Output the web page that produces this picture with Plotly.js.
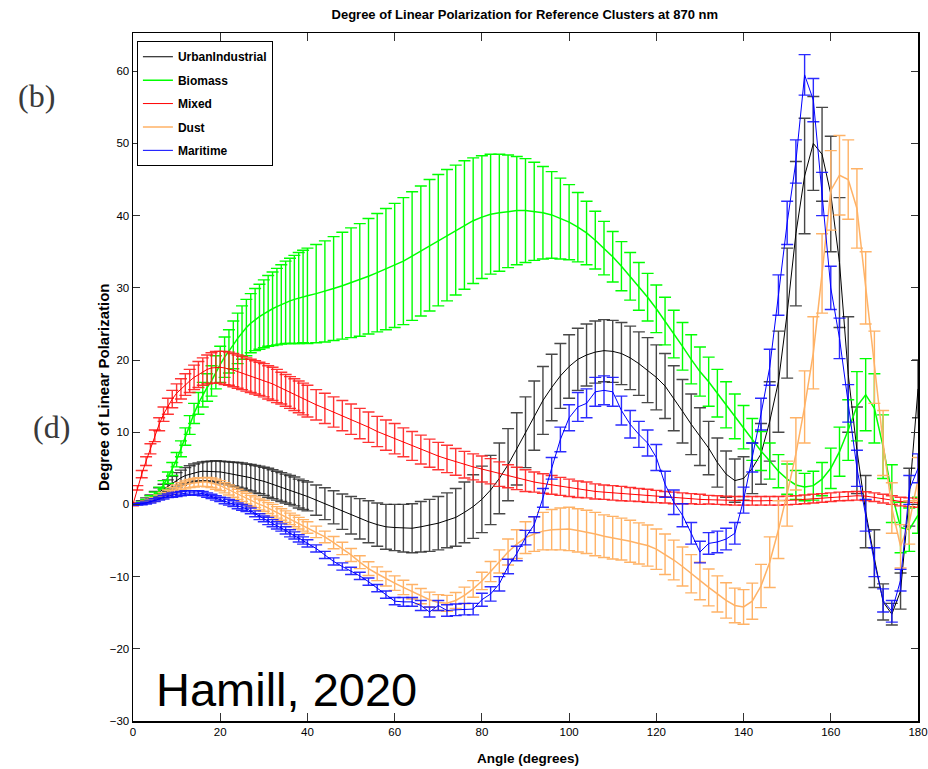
<!DOCTYPE html>
<html>
<head>
<meta charset="utf-8">
<script src="https://cdn.plot.ly/plotly-3.0.1.min.js"></script>
<style>html,body{margin:0;padding:0;background:#fff}#chart{width:928px;height:769px}</style>
</head>
<body>
<div id="chart"></div>
<script>
// Scattering angle (degrees)
const angles = [0,1,2,3,4,5,6,7,8,9,10,11,12,13,14,15,16,17,18,19,20,21,22,23,24,25,26,27,28,29,30,31,32,33,34,35,36,37,38,39,40,
42,44,46,48,50,52,54,56,58,60,62,64,66,68,70,72,74,76,78,80,82,84,86,88,90,92,94,96,98,100,102,104,106,108,110,112,114,116,118,120,122,124,126,128,130,132,134,136,138,140,142,144,146,148,150,152,154,156,158,160,162,164,166,168,170,172,174,176,178,180];

const seriesNames = ["UrbanIndustrial","Biomass","Mixed","Dust","Maritime"];

const urbanMean = [0,0.1,0.3,0.6,0.9,1.3,1.7,2.1,2.6,3.0,3.4,3.7,4.0,4.2,4.4,4.5,4.6,4.6,4.6,4.6,4.5,4.4,4.3,4.2,4.1,4.0,3.8,3.7,3.5,3.4,3.2,3.0,2.8,2.6,2.4,2.2,2.0,1.8,1.5,1.3,1.1,
0.6,0.1,-0.4,-1.0,-1.5,-2.0,-2.4,-2.8,-3.1,-3.2,-3.3,-3.3,-3.1,-2.9,-2.6,-2.2,-1.8,-1.1,-0.3,0.7,2.0,3.6,5.5,7.7,10.0,12.3,14.4,16.2,17.8,19.1,20.1,20.7,21.1,21.3,21.2,20.9,20.3,19.5,18.6,17.6,16.4,14.7,12.9,11.1,9.4,7.8,5.8,4.2,3.3,3.6,5.0,7.0,11.5,17.0,26.5,37.5,45.5,50.0,48.5,43.0,33.5,18.0,7.5,-1.0,-7.5,-13.5,-15.2,-12.0,1.0,16.0];
const urbanErr = [0,0.1,0.2,0.3,0.4,0.5,0.6,0.7,0.8,0.9,1.0,1.05,1.1,1.15,1.2,1.25,1.3,1.35,1.4,1.45,1.5,1.55,1.6,1.65,1.7,1.75,1.8,1.85,1.9,1.9,1.95,2.0,2.0,2.0,2.0,2.0,2.0,2.0,2.0,2.0,2.0,
2.1,2.2,2.3,2.45,2.6,2.8,2.9,3.0,3.1,3.2,3.3,3.4,3.5,3.6,3.7,3.8,4.0,4.2,4.4,4.6,4.8,4.9,5.0,5.0,4.9,4.8,4.7,4.6,4.5,4.4,4.3,4.3,4.3,4.3,4.3,4.3,4.4,4.4,4.5,4.5,4.5,4.5,4.4,4.2,4.0,3.7,3.4,3.2,3.0,3.0,3.5,4.2,5.5,7.0,9.0,10.0,8.0,6.5,6.5,8.0,9.0,8.0,6.0,5.0,4.0,2.5,1.5,2.5,4.0,4.0];

const biomassMean = [0,0.05,0.2,0.5,0.9,1.3,1.9,2.7,3.7,4.9,6.2,7.7,9.4,11.0,12.6,14.0,15.2,16.2,17.1,18.3,19.4,20.4,21.2,22.1,23.0,23.8,24.5,25.1,25.6,26.0,26.4,26.8,27.1,27.4,27.7,28.0,28.2,28.4,28.6,28.8,28.9,
29.2,29.5,29.9,30.3,30.7,31.1,31.6,32.1,32.6,33.1,33.7,34.4,35.1,35.9,36.6,37.3,38.0,38.7,39.3,39.8,40.2,40.4,40.6,40.7,40.7,40.6,40.4,40.1,39.6,39.1,38.4,37.6,36.6,35.5,34.3,33.0,31.6,30.2,28.7,27.1,25.4,23.6,21.9,20.1,18.4,17.0,15.4,13.8,12.2,10.7,9.0,7.4,6.0,4.6,3.5,2.7,2.4,2.6,3.5,5.0,7.3,10.3,13.6,15.2,13.3,8.0,1.5,-3.2,-3.5,-1.5];
const biomassErr = [0,0.05,0.1,0.2,0.3,0.4,0.5,0.6,0.8,0.9,1.0,1.1,1.2,1.3,1.4,1.5,1.7,1.9,2.1,2.3,2.5,2.8,3.0,3.3,3.5,3.7,3.9,4.1,4.3,4.5,4.7,4.9,5.1,5.3,5.5,5.7,5.9,6.1,6.3,6.4,6.6,
6.8,7.0,7.2,7.4,7.6,7.8,8.0,8.2,8.4,8.6,8.8,8.9,9.0,9.1,9.1,9.1,9.0,8.9,8.7,8.5,8.3,8.1,7.8,7.5,7.2,6.8,6.4,6.0,5.6,5.2,4.8,4.4,4.0,3.7,3.5,3.4,3.3,3.3,3.3,3.3,3.3,3.3,3.3,3.4,3.4,3.4,3.3,3.2,3.1,3.0,2.9,2.7,2.5,2.3,2.1,2.0,1.9,2.0,2.3,2.8,3.4,4.2,4.8,5.0,4.8,4.4,4.0,3.5,3.0,2.5];

const mixedMean = [0,2.3,4.2,6.0,7.7,9.5,11.1,12.5,13.6,14.6,15.4,16.0,16.6,17.1,17.6,18.0,18.4,18.7,18.9,19.0,19.0,18.9,18.8,18.6,18.4,18.2,18.0,17.8,17.6,17.4,17.2,16.9,16.7,16.4,16.1,15.8,15.5,15.2,14.9,14.6,14.3,
13.8,13.3,12.8,12.3,11.8,11.2,10.7,10.1,9.6,9.1,8.6,8.1,7.6,7.1,6.7,6.3,5.9,5.5,5.2,4.9,4.6,4.2,3.9,3.6,3.3,3.1,2.9,2.7,2.5,2.3,2.1,2.0,1.8,1.7,1.6,1.5,1.4,1.3,1.2,1.1,1.0,0.9,0.85,0.8,0.7,0.65,0.6,0.55,0.5,0.5,0.5,0.5,0.5,0.5,0.55,0.6,0.7,0.8,0.9,1.0,1.1,1.15,1.2,1.15,1.0,0.8,0.6,0.4,0.3,0.2];
const mixedErr = [0.2,0.3,0.5,0.6,0.7,0.8,0.9,1.0,1.1,1.2,1.3,1.4,1.5,1.6,1.7,1.8,1.9,2.0,2.1,2.2,2.2,2.3,2.3,2.3,2.3,2.3,2.3,2.3,2.3,2.3,2.3,2.3,2.3,2.3,2.2,2.2,2.2,2.2,2.2,2.2,2.2,
2.1,2.1,2.1,2.1,2.1,2.1,2.1,2.1,2.1,2.1,2.0,2.0,2.0,1.95,1.9,1.9,1.85,1.85,1.8,1.8,1.75,1.7,1.6,1.55,1.5,1.4,1.35,1.3,1.25,1.2,1.15,1.1,1.05,1.0,1.0,1.0,0.95,0.9,0.9,0.85,0.8,0.8,0.75,0.7,0.7,0.6,0.6,0.6,0.6,0.6,0.6,0.6,0.6,0.6,0.6,0.6,0.6,0.6,0.6,0.6,0.6,0.6,0.6,0.6,0.6,0.6,0.6,0.6,0.6,0.6];

const dustMean = [0,0.05,0.15,0.3,0.5,0.7,1.0,1.3,1.6,1.9,2.2,2.5,2.7,2.9,3.0,3.1,3.1,3.1,3.0,2.8,2.6,2.3,2.0,1.7,1.4,1.1,0.8,0.5,0.3,0.0,-0.2,-0.5,-0.8,-1.1,-1.4,-1.7,-2.0,-2.3,-2.6,-2.9,-3.2,
-3.8,-4.5,-5.3,-6.1,-7.0,-8.0,-8.9,-9.6,-10.3,-10.9,-11.5,-12.1,-12.7,-13.2,-13.6,-13.7,-13.3,-12.6,-11.7,-10.6,-9.3,-7.9,-6.6,-5.5,-4.6,-4.1,-3.7,-3.5,-3.4,-3.4,-3.6,-3.8,-4.1,-4.4,-4.6,-4.8,-5.1,-5.4,-5.7,-6.2,-6.9,-7.7,-8.6,-9.6,-10.6,-11.5,-12.4,-13.3,-14.0,-14.2,-13.4,-11.3,-8.0,-3.5,1.5,7.0,13.5,21.0,32.0,43.5,45.6,45.0,41.0,30.0,19.0,8.5,-0.5,-5.8,-2.5,3.5];
const dustErr = [0,0.05,0.1,0.15,0.2,0.25,0.3,0.35,0.4,0.45,0.5,0.5,0.55,0.55,0.6,0.6,0.6,0.65,0.65,0.7,0.7,0.7,0.7,0.7,0.7,0.7,0.75,0.75,0.75,0.75,0.75,0.75,0.8,0.8,0.8,0.8,0.8,0.8,0.8,0.8,0.8,
0.8,0.8,0.85,0.85,0.9,0.9,0.95,0.95,1.0,1.0,1.0,1.0,1.05,1.05,1.1,1.1,1.1,1.15,1.15,1.2,1.4,1.6,1.8,2.0,2.2,2.4,2.6,2.8,2.9,3.0,3.0,3.0,3.0,2.95,2.95,2.9,2.9,2.85,2.85,2.8,2.8,2.75,2.7,2.65,2.6,2.55,2.5,2.45,2.4,2.4,2.5,3.0,3.5,4.0,4.5,5.0,5.0,5.0,5.5,5.5,5.5,5.5,5.5,5.0,5.0,4.5,3.5,3.0,3.0,3.0];

const maritimeMean = [0,0,0.1,0.2,0.4,0.6,0.8,1.0,1.2,1.3,1.4,1.5,1.6,1.6,1.6,1.6,1.5,1.3,1.1,0.9,0.7,0.5,0.3,0.1,-0.2,-0.4,-0.6,-0.9,-1.3,-1.7,-2.0,-2.3,-2.6,-2.9,-3.2,-3.6,-4.0,-4.3,-4.7,-5.0,-5.4,
-6.1,-7.0,-7.9,-8.6,-9.2,-9.9,-10.7,-11.6,-12.5,-13.4,-13.5,-13.5,-14.0,-14.9,-14.0,-14.7,-14.6,-14.5,-14.5,-13.2,-12.4,-11.0,-8.6,-6.8,-4.6,-2.8,0.9,5.0,9.0,12.0,13.5,14.0,15.6,15.8,15.6,13.0,11.1,9.7,8.5,6.5,2.8,0.3,-1.5,-4.0,-6.6,-5.4,-5.2,-4.8,-4.0,0.6,6.5,12.5,19.0,29.0,39.0,47.5,59.5,56.0,43.0,30.0,23.0,14.0,5.0,-1.5,-8.0,-13.3,-14.8,-10.5,2.0,5.0];
const maritimeErr = [0.1,0.1,0.15,0.15,0.2,0.2,0.2,0.25,0.25,0.3,0.3,0.3,0.3,0.3,0.3,0.3,0.3,0.3,0.3,0.3,0.3,0.4,0.4,0.4,0.4,0.4,0.4,0.4,0.4,0.4,0.4,0.5,0.5,0.5,0.5,0.5,0.5,0.5,0.5,0.5,0.5,
0.5,0.5,0.5,0.5,0.5,0.5,0.5,0.5,0.5,0.5,0.6,0.6,0.7,0.7,0.7,0.8,0.8,0.8,0.8,0.9,1.0,1.0,1.0,1.0,1.0,1.1,1.3,1.5,1.7,1.8,2.0,2.0,2.0,2.0,2.0,2.0,1.9,1.8,1.8,1.8,1.8,1.7,1.6,1.5,1.5,1.5,1.5,1.5,1.5,1.8,2.0,2.2,2.5,2.8,3.0,3.0,2.8,3.0,3.0,3.0,2.8,2.6,2.5,2.2,2.0,1.6,1.5,1.5,2.0,2.0];

const xTicks = [0,20,40,60,80,100,120,140,160,180];
const yTicks = [-30,-20,-10,0,10,20,30,40,50,60];

const narrow = "Liberation Sans Narrow, Arial Narrow, Liberation Sans, Arial, sans-serif";
const wide = "Liberation Sans, Arial, sans-serif";

function mk(name, y, err, color, lw, ecolor) {
  return {
    type: "scatter", mode: "lines", name: name, x: angles, y: y,
    line: {color: color, width: lw},
    error_y: {type: "data", array: err, visible: true, color: ecolor || color, thickness: 1.4, width: 6},
    legendgroup: name
  };
}

const data = [
  mk(seriesNames[0], urbanMean, urbanErr, "#000000", 1, "rgba(40,40,40,0.85)"),
  mk(seriesNames[1], biomassMean, biomassErr, "#00ff00", 1.5),
  mk(seriesNames[2], mixedMean, mixedErr, "#ff0000", 1, "rgba(255,30,30,0.9)"),
  mk(seriesNames[3], dustMean, dustErr, "#ffb266", 1.5),
  mk(seriesNames[4], maritimeMean, maritimeErr, "#0000ff", 1, "rgba(20,20,255,0.9)")
];

const axisCommon = {
  showline: true, linecolor: "#000", linewidth: 1.5, mirror: "ticks",
  ticks: "inside", ticklen: 8, tickwidth: 1, tickcolor: "#333",
  showgrid: false, zeroline: false, ticklabeloverflow: "allow",
  tickfont: {family: narrow, size: 11.5, color: "#000"}
};

const layout = {
  width: 928, height: 769,
  margin: {l: 133, r: 10, t: 33, b: 48},
  paper_bgcolor: "#fff", plot_bgcolor: "#fff",
  showlegend: true,
  title: {text: "<b>Degree of Linear Polarization for Reference Clusters at 870 nm</b>",
          font: {family: narrow, size: 13, color: "#000"}, x: 0.5655, xanchor: "center", y: 0.981, yanchor: "middle"},
  xaxis: Object.assign({}, axisCommon, {
    range: [0, 180], tickvals: xTicks, ticktext: xTicks.map(String)
  }),
  yaxis: Object.assign({}, axisCommon, {
    range: [-30, 65.3], tickvals: yTicks, ticktext: yTicks.map(v => v < 0 ? "\u2212" + Math.abs(v) : String(v)),
    ticklen: 7
  }),
  legend: {
    x: 0.005, y: 0.988, xanchor: "left", yanchor: "top",
    bgcolor: "#fff", bordercolor: "#000", borderwidth: 1,
    font: {family: narrow, size: 12, color: "#000", weight: "bold"},
    tracegroupgap: 4.4, itemwidth: 30
  },
  annotations: [
    {xref: "paper", yref: "paper", x: 0.5032, y: -0.0538, xanchor: "center", yanchor: "middle",
     text: "<b>Angle (degrees)</b>", showarrow: false, font: {family: narrow, size: 13.5, color: "#000"}},
    {xref: "paper", yref: "paper", x: -0.0369, y: 0.4855, xanchor: "center", yanchor: "middle", textangle: -90,
     text: "<b>Degree of Linear Polarization</b>", showarrow: false, font: {family: wide, size: 15, color: "#000"}},
    {xref: "paper", yref: "paper", x: -0.1223, y: 0.909, xanchor: "center", yanchor: "middle", text: "(b)", showarrow: false,
     font: {family: "Liberation Serif, DejaVu Serif, serif", size: 32, color: "#3a3a3a"}},
    {xref: "paper", yref: "paper", x: -0.1032, y: 0.4279, xanchor: "center", yanchor: "middle", text: "(d)", showarrow: false,
     font: {family: "Liberation Serif, DejaVu Serif, serif", size: 32, color: "#3a3a3a"}},
    {xref: "x", yref: "y", x: 4.9, y: -25.6, xanchor: "left", yanchor: "middle", text: "Hamill, 2020", showarrow: false,
     font: {family: wide, size: 47, color: "#000"}}
  ]
};

Plotly.newPlot("chart", data, layout, {displayModeBar: false, staticPlot: true});
</script>
</body>
</html>
